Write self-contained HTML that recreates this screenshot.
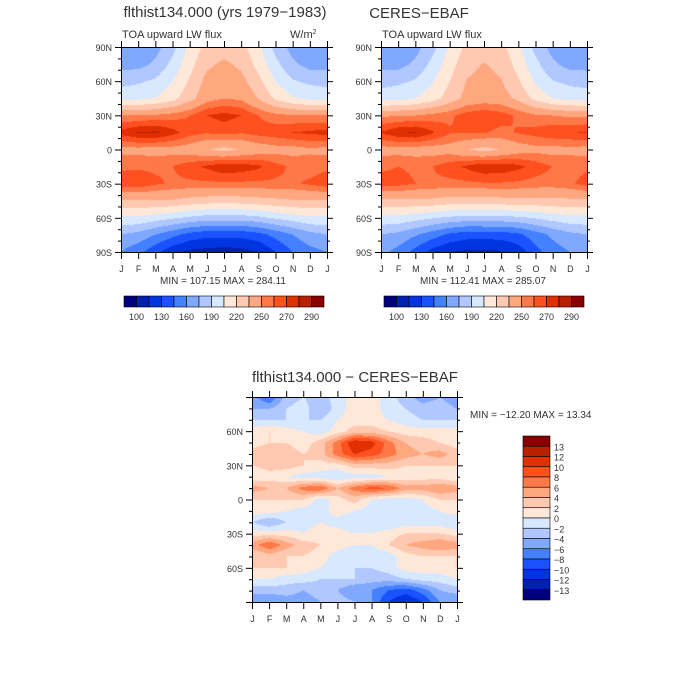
<!DOCTYPE html>
<html><head><meta charset="utf-8">
<style>
body{margin:0;background:#fff;}
#wrap{position:relative;width:700px;height:700px;overflow:hidden;background:#fff;font-family:"Liberation Sans",sans-serif;}
canvas{position:absolute;}
svg{position:absolute;left:0;top:0;}
</style></head>
<body>
<div id="wrap">
<canvas id="c1" width="206" height="205" style="left:121px;top:47px"></canvas>
<canvas id="c2" width="206" height="205" style="left:381px;top:47px"></canvas>
<canvas id="c3" width="205" height="205" style="left:252px;top:397px"></canvas>
<svg id="s" width="700" height="700"></svg>
</div>
<script>
const months=["J","F","M","A","M","J","J","A","S","O","N","D","J"];
const latLabelsTop=["90N","60N","30N","0","30S","60S","90S"];
const latLabelsDiff=["60N","30N","0","30S","60S"];
const fluxLevels=[100,115,130,145,160,175,190,205,220,235,250,260,270,280,290];
const fluxLabels=["100","130","160","190","220","250","270","290"];
const diffLevels=[-13,-12,-10,-8,-6,-4,-2,0,2,4,6,8,10,12,13];
const diffLabels=["13","12","10","8","6","4","2","0","\u22122","\u22124","\u22126","\u22128","\u221210","\u221212","\u221213"];
const fluxColors=["#00007e","#0020b0","#0034e0","#1a52ff","#4480ff","#80a8ff","#b0c8ff","#d8e8ff","#ffe8d8","#ffc8b0","#ffa880","#ff7848","#ff5020","#e03000","#b82000","#880000"];
const modelFlux=[
[165,165,170,185,210,225,228,225,210,185,170,165,165],
[170,170,178,195,215,232,238,232,215,195,178,170,170],
[185,188,193,205,222,240,245,240,225,205,192,187,185],
[200,202,206,215,230,245,250,248,235,218,207,202,200],
[250,250,252,255,260,270,274,270,260,254,251,250,250],
[274,281,282,274,264,261,264,261,264,266,270,272,274],
[246,246,245,245,243,236,230,236,242,245,245,248,246],
[258,258,258,260,266,272,278,276,272,264,258,255,258],
[266,268,262,258,258,258,258,258,258,258,258,262,266],
[234,234,234,234,230,228,226,228,230,232,234,234,234],
[203,203,198,193,188,184,184,184,187,193,198,203,203],
[175,170,160,150,140,135,135,135,140,150,160,170,175],
[160,150,135,120,112,110,108,110,115,130,145,155,160]];
const ceresFlux=[
[165,165,170,185,208,224,228,224,210,185,170,165,165],
[170,170,178,195,214,230,236,231,214,195,178,170,170],
[184,187,192,204,220,236,240,236,222,203,191,186,184],
[199,201,205,214,227,240,243,242,232,216,205,201,199],
[248,249,250,254,258,265,268,265,258,252,250,248,248],
[271,279,281,271,261,261,261,257,261,264,268,269,271],
[245,245,244,244,244,236,230,236,243,246,245,247,245],
[258,260,258,260,266,272,278,277,273,266,260,256,258],
[264,264,260,258,257,258,259,259,258,256,255,258,264],
[232,232,232,232,229,229,228,230,231,231,232,232,232],
[201,201,197,192,188,185,186,186,188,192,197,201,201],
[175,171,162,152,142,137,137,137,142,153,163,171,175],
[165,155,140,125,116,113,112,114,122,140,153,160,165]];
const diffValues=[
[-5,-8,-3,-2,-3,-1,1,1,-1,-3,-5,-4,-5],
[-4,-4,-2,-1,-4,-1,1,1,-1,-2,-3,-3,-4],
[-2,-2,-2,-2,-2,0,1,1,0,-1,-2,-2,-2],
[1,2,1,0,-1,1,3,3,2,1,1,1,1],
[1,2,2,1,3,7,12,11,7,4,3,2,1],
[3,4,3,2,3,7,10,9,7,5,4,5,3],
[2,3,3,2,1,1,3,3,3,2,2,2,2],
[0,1,0,-1,-1,-2,-1,-1,0,1,1,1,0],
[5,4,4,7,8,4,7,9,8,5,5,6,5],
[2,2,2,2,-1,1,3,0,-1,-1,0,2,2],
[1,1,0,-1,-1,1,0,-1,-1,-1,-1,0,1],
[-2,-4,-2,-1,0,-1,-2,-2,-2,-1,-1,-1,-2],
[1,1,1,0,1,1,0,0,1,2,2,2,1],
[5,8,5,3,2,1,0,0,2,4,5,6,5],
[2,3,2,2,1,-1,-2,-2,-1,1,2,2,2],
[2,2,2,1,0,-1,-2,-2,-1,1,1,1,2],
[0,0,-1,-1,-2,-2,-2,-3,-3,-2,-1,-1,0],
[-3,-3,-3,-4,-3,-4,-6,-6,-8,-9,-7,-4,-3],
[-6,-6,-5,-5,-4,-3,-4,-6,-10,-12,-10,-6,-6]];

function level(v,levels){let i=0;while(i<levels.length&&v>=levels[i])i++;return i;}
function drawHeat(id,grid,levels){
  const cv=document.getElementById(id),ctx=cv.getContext('2d');
  const W=cv.width,H=cv.height,R=grid.length,C=grid[0].length;
  for(let y=0;y<H;y++){for(let x=0;x<W;x++){
    const gx=x/(W-1)*(C-1),gy=y/(H-1)*(R-1);
    const x0=Math.min(Math.floor(gx),C-2),y0=Math.min(Math.floor(gy),R-2);
    const fx=gx-x0,fy=gy-y0;
    const v=grid[y0][x0]*(1-fx)*(1-fy)+grid[y0][x0+1]*fx*(1-fy)+grid[y0+1][x0]*(1-fx)*fy+grid[y0+1][x0+1]*fx*fy;
    ctx.fillStyle=fluxColors[level(v,levels)];ctx.fillRect(x,y,1,1);}}
}
drawHeat('c1',modelFlux,fluxLevels);
drawHeat('c2',ceresFlux,fluxLevels);
drawHeat('c3',diffValues,diffLevels);

const svg=document.getElementById('s');const NS="http://www.w3.org/2000/svg";
function el(tag,attrs,parent){const e=document.createElementNS(NS,tag);for(const k in attrs)e.setAttribute(k,attrs[k]);(parent||svg).appendChild(e);return e;}
function txt(s,x,y,size,anchor,name){const t=el('text',{x:x,y:y,'font-size':size,'text-anchor':anchor||'start',fill:'#333','font-family':'Liberation Sans, sans-serif'});t.textContent=s;

return t;}
function line(x1,y1,x2,y2,name){const l=el('line',{x1:x1,y1:y1,x2:x2,y2:y2,stroke:'#000','stroke-width':1});

return l;}

function panel(L,T,W,H,latLabels,latTop,prefix){
  const fr=el('rect',{x:L+0.5,y:T+0.5,width:W,height:H,fill:'none',stroke:'#000'});
  
  
  for(let i=0;i<months.length;i++){
    const x=L+0.5+i*W/12;
    line(x,T+H,x,T+H+7,prefix+'-x-tick');line(x,T,x,T-6,prefix+'-x-tick-top');
    txt(months[i],x,T+H+20,9,'middle',prefix+'-month-label');
  }
  for(let d=0;d<=18;d++){
    const y=T+0.5+d*H/18;
    if(d%3===0){line(L-6,y,L,y,prefix+'-y-tick');line(L+W,y,L+W+6,y,prefix+'-y-tick-right');}
    else{line(L-3,y,L,y,prefix+'-y-minor');line(L+W,y,L+W+3,y,prefix+'-y-minor-right');}
  }
  latLabels.forEach((s,i)=>{const d=latTop+i*3;txt(s,L-9,T+d*H/18+4,9,'end',prefix+'-lat-label');});
}
panel(121,47,206,205,latLabelsTop,0,'model');
panel(381,47,206,205,latLabelsTop,0,'ceres');
panel(252,397,205,205,latLabelsDiff,3,'diff');

txt("flthist134.000 (yrs 1979\u22121983)",225,17,15,'middle','model-title');
txt("TOA upward LW flux",122,38,11,'start','model-subtitle');
const u=txt("W/m",290,38,11,'start','model-units');const sup=el('tspan',{dy:-4,'font-size':7},u);sup.textContent="2";
txt("CERES\u2212EBAF",419,18,15,'middle','ceres-title');
txt("TOA upward LW flux",382,38,11,'start','ceres-subtitle');
txt("MIN = 107.15 MAX = 284.11",223,284,10,'middle','model-minmax');
txt("MIN = 112.41 MAX = 285.07",483,284,10,'middle','ceres-minmax');
txt("flthist134.000 \u2212 CERES\u2212EBAF",355,382,15,'middle','diff-title');
txt("MIN = \u221212.20 MAX =  13.34",470,418,10,'start','diff-minmax');

function hbar(L,prefix){
  const T=296,W=200,H=11,n=fluxColors.length;
  for(let i=0;i<n;i++){const r=el('rect',{x:L+i*W/n,y:T,width:W/n,height:H,fill:fluxColors[i],stroke:'#000','stroke-width':0.6});
    
    }
  fluxLabels.forEach((s,i)=>txt(s,L+(1+2*i)*W/n,320,9,'middle',prefix+'-colorbar-label'));
}
hbar(124,'model');hbar(384,'ceres');
(function(){const L=523,T=436,W=27,H=164,n=fluxColors.length;
  for(let i=0;i<n;i++){const r=el('rect',{x:L,y:T+i*H/n,width:W,height:H/n,fill:fluxColors[n-1-i],stroke:'#000','stroke-width':0.6});
    
    }
  diffLabels.forEach((s,i)=>txt(s,L+W+4,T+(i+1)*H/n+4,9,'start','diff-colorbar-label'));
})();
</script>
</body></html>
